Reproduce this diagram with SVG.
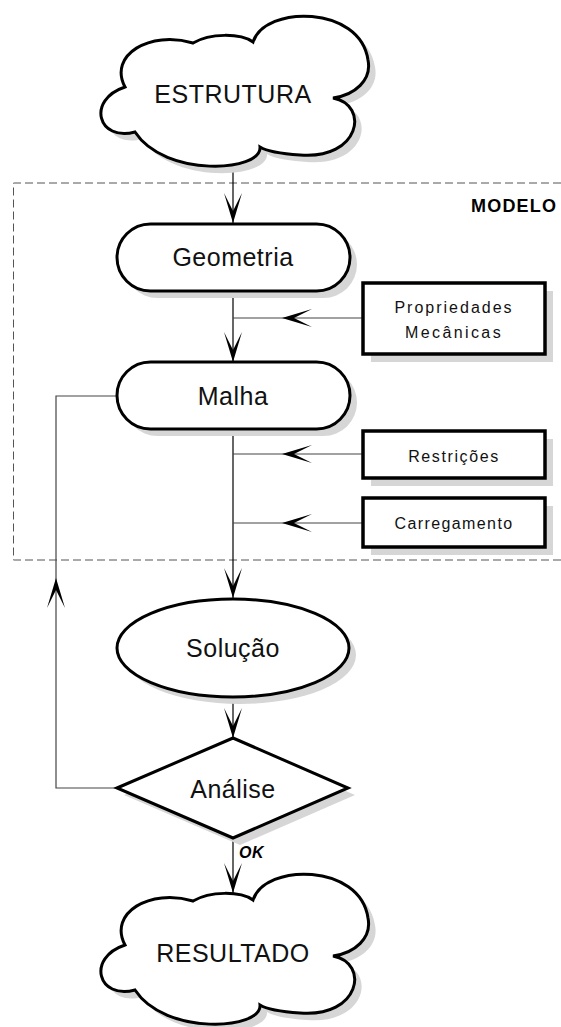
<svg xmlns="http://www.w3.org/2000/svg" width="561" height="1027" viewBox="0 0 561 1027">
<style>
.sh{fill:#d6d6d6;stroke:none}
.nd{fill:#fff;stroke:#000;stroke-width:3}
.bx{fill:#fff;stroke:#000;stroke-width:3.5}
.big{font-family:"Liberation Sans",Arial,sans-serif;font-size:25px;fill:#111;text-anchor:middle;letter-spacing:0.5px}
.sm{font-family:"Liberation Sans",Arial,sans-serif;font-size:16px;fill:#111;text-anchor:middle}
.cn{fill:none;stroke:#000;stroke-width:1.2}
.cg{fill:none;stroke:#444;stroke-width:1.2}
</style>
<defs>
<path id="cloud" d="M135,132 C98,142 86,100 125,87 C108,55 150,30 193,43 C210,33 240,33 253,42 C265,5 360,5 368,60 C372,80 355,95 333,98 C370,105 360,160 300,155 C285,154 268,152 260,147 C262,172 165,178 135,132 Z"/>
<marker id="ah" viewBox="-31 -10 32 20" markerWidth="32" markerHeight="20" refX="0" refY="0" orient="auto" markerUnits="userSpaceOnUse">
<path d="M0,0 L-30,-9 L-12,0 L-30,9 Z" fill="#000"/>
</marker>
</defs>

<g id="modelo">
<path d="M561,183 L13.5,183 L13.5,560 L561,560" fill="none" stroke="#555" stroke-width="1" stroke-dasharray="8 4"/>
<text x="471" y="212" font-family="Liberation Sans,Arial,sans-serif" font-size="18" font-weight="bold" letter-spacing="1.2">MODELO</text>
</g>

<g id="connectors">
<path class="cn" d="M233,165 L233,223" marker-end="url(#ah)"/>
<path class="cn" d="M233,291 L233,362" marker-end="url(#ah)"/>
<path class="cn" d="M233,429 L233,598" marker-end="url(#ah)"/>
<path class="cn" d="M233,697 L233,738" marker-end="url(#ah)"/>
<path class="cn" d="M233,838 L233,893" marker-end="url(#ah)"/>
<path class="cg" d="M363,318 L282,318" marker-end="url(#ah)"/>
<path class="cg" d="M282,318 L233,318"/>
<path class="cg" d="M363,454 L282,454" marker-end="url(#ah)"/>
<path class="cg" d="M282,454 L233,454"/>
<path class="cg" d="M363,523 L282,523" marker-end="url(#ah)"/>
<path class="cg" d="M282,523 L233,523"/>
<path class="cg" d="M117,788 L56,788 L56,578" marker-end="url(#ah)"/>
<path class="cg" d="M56,578 L56,396 L117,396"/>
<text x="239" y="858" font-family="Liberation Sans,Arial,sans-serif" font-size="16" font-weight="bold" font-style="italic" letter-spacing="0.5">OK</text>
</g>

<g id="estrutura">
<use href="#cloud" class="sh" transform="translate(7,7)"/>
<use href="#cloud" class="nd"/>
<text class="big" x="233" y="103">ESTRUTURA</text>
</g>

<g id="geometria">
<rect class="sh" x="124" y="231" width="233" height="67" rx="33.5"/>
<rect class="nd" x="117" y="224" width="233" height="67" rx="33.5"/>
<text class="big" x="233" y="266">Geometria</text>
</g>

<g id="propriedades">
<rect class="sh" x="371" y="291" width="182" height="71"/>
<rect class="bx" x="363" y="283" width="182" height="71"/>
<text class="sm" x="454" y="313" letter-spacing="2">Propriedades</text>
<text class="sm" x="454" y="338" letter-spacing="2.4">Mecânicas</text>
</g>

<g id="malha">
<rect class="sh" x="124" y="369" width="233" height="67" rx="33.5"/>
<rect class="nd" x="117" y="362" width="233" height="67" rx="33.5"/>
<text class="big" x="233" y="405">Malha</text>
</g>

<g id="restricoes">
<rect class="sh" x="371" y="439" width="182" height="47"/>
<rect class="bx" x="363" y="431" width="182" height="47"/>
<text class="sm" x="454" y="462" letter-spacing="1.6">Restrições</text>
</g>

<g id="carregamento">
<rect class="sh" x="371" y="506" width="182" height="49"/>
<rect class="bx" x="363" y="498" width="182" height="49"/>
<text class="sm" x="454" y="529" letter-spacing="1.4">Carregamento</text>
</g>

<g id="solucao">
<ellipse class="sh" cx="240" cy="655" rx="116" ry="49"/>
<ellipse class="nd" cx="233" cy="648" rx="116" ry="49"/>
<text class="big" x="233" y="657">Solução</text>
</g>

<g id="analise">
<polygon class="sh" points="124,795 240,745 355,795 240,845"/>
<polygon class="nd" points="117,788 233,738 348,788 233,838"/>
<text class="big" x="233" y="798">Análise</text>
</g>

<g id="resultado">
<use href="#cloud" class="sh" transform="translate(7,865)"/>
<use href="#cloud" class="nd" transform="translate(0,858)"/>
<text class="big" x="233" y="962">RESULTADO</text>
</g>
</svg>
